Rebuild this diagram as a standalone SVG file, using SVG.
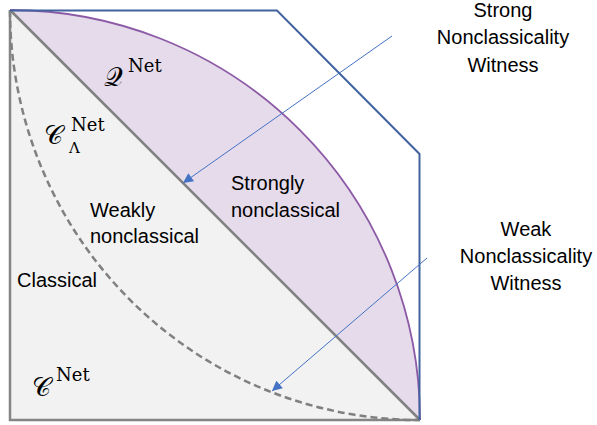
<svg xmlns="http://www.w3.org/2000/svg" width="597" height="425" viewBox="0 0 597 425">
  <style>
    .lbl { font-family: "Liberation Sans", Arial, sans-serif; font-size: 20px; fill: #000; }
    .mi { font-family: "DejaVu Serif", "Liberation Serif", serif; font-size: 26px; fill: #000; }
    .sup { font-family: "DejaVu Serif", "Liberation Serif", serif; font-size: 18px; fill: #000; }
    .sub { font-family: "DejaVu Serif", "Liberation Serif", serif; font-size: 15px; fill: #000; }
    .arrow { stroke: #4472c4; stroke-width: 1; fill: none; marker-end: url(#ah); }
  </style>
  <defs>
    <marker id="ah" viewBox="0 0 10 10" refX="10" refY="5" markerWidth="12" markerHeight="10" markerUnits="userSpaceOnUse" orient="auto">
      <path d="M0,0 L10,5 L0,10 Z" fill="#4472c4"/>
    </marker>
  </defs>
  <rect width="597" height="425" fill="#fff"/>

  <g id="classical-region">
    <path d="M10,10 L10,420 L420,420 Z" fill="#f2f2f2"/>
  </g>
  <g id="quantum-region">
    <path d="M10,10 A410,410 0 0 1 420,420 Z" fill="#e5dbea"/>
  </g>
  <g id="square-border">
    <path d="M10,10 L10,420 L420,420" fill="none" stroke="#858585" stroke-width="2.5"/>
  </g>
  <g id="diagonal">
    <path d="M10,10 L420,420" fill="none" stroke="#808080" stroke-width="2.5"/>
  </g>
  <g id="classical-boundary">
    <path d="M10,10 A410,410 0 0 0 420,420" fill="none" stroke="#808080" stroke-width="2.5" stroke-dasharray="7,4"/>
  </g>
  <g id="quantum-boundary">
    <path d="M10,10 A410,410 0 0 1 420,420" fill="none" stroke="#8c5aa6" stroke-width="1.8"/>
  </g>
  <g id="outer-polytope">
    <path d="M10,10.5 L277,10.5 L419.5,154 L419.5,420" fill="none" stroke="#41639f" stroke-width="2"/>
  </g>

  <g id="connectors">
    <path class="arrow" d="M392,36 L183,183"/>
    <path class="arrow" d="M427,258 L272,391"/>
  </g>

  <g id="label-Q">
    <text class="mi" x="104" y="86">𝒬</text>
    <text class="sup" x="128" y="72">Net</text>
  </g>
  <g id="label-CLambda">
    <text class="mi" x="44" y="144">𝒞</text>
    <text class="sub" x="69" y="153">Λ</text>
    <text class="sup" x="71" y="131">Net</text>
  </g>
  <g id="label-C">
    <text class="mi" x="32" y="396">𝒞</text>
    <text class="sup" x="56" y="381">Net</text>
  </g>
  <g id="label-strongly">
    <text class="lbl" x="231" y="190">Strongly</text>
    <text class="lbl" x="231" y="217">nonclassical</text>
  </g>
  <g id="label-weakly">
    <text class="lbl" x="90" y="217">Weakly</text>
    <text class="lbl" x="90" y="243">nonclassical</text>
  </g>
  <g id="label-classical">
    <text class="lbl" x="17" y="287">Classical</text>
  </g>
  <g id="strong-witness">
    <text class="lbl" text-anchor="middle" x="503" y="17">Strong</text>
    <text class="lbl" text-anchor="middle" x="503" y="44">Nonclassicality</text>
    <text class="lbl" text-anchor="middle" x="503" y="72">Witness</text>
  </g>
  <g id="weak-witness">
    <text class="lbl" text-anchor="middle" x="526" y="236">Weak</text>
    <text class="lbl" text-anchor="middle" x="526" y="263">Nonclassicality</text>
    <text class="lbl" text-anchor="middle" x="526" y="290">Witness</text>
  </g>
</svg>
